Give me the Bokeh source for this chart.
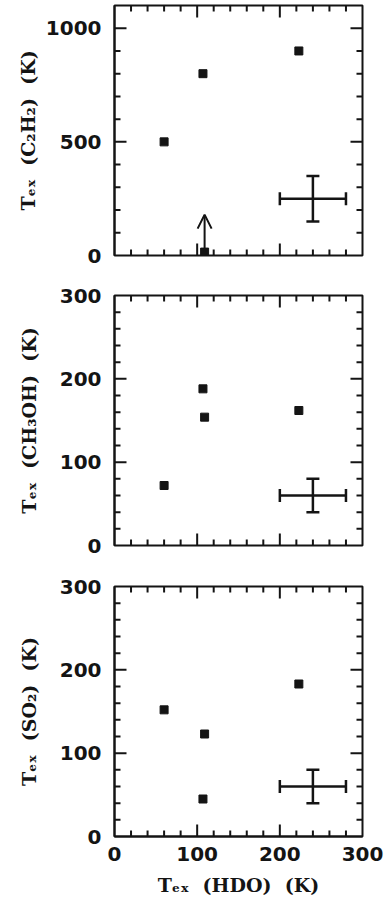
import math
from bokeh.plotting import figure
from bokeh.layouts import column
from bokeh.models import (ColumnDataSource, Range1d, SingleIntervalTicker,
                          Whisker, TeeHead, Arrow, OpenHead)
from bokeh.embed import file_html
from bokeh.resources import INLINE

# ---------------- data ----------------
hdo_c2h2 = [60, 107, 223]
t_c2h2 = [500, 800, 900]
hdo_c2h2_lim = [109]
t_c2h2_lim_low = [15]
t_c2h2_lim_arrow = [180]

hdo_ch3oh = [60, 107, 109, 223]
t_ch3oh = [72, 188, 154, 162]

hdo_so2 = [60, 109, 107, 223]
t_so2 = [152, 123, 45, 183]

err_x = [240]
err_dx = [40]
err_c2h2_y = [250]
err_c2h2_dy = [100]
err_ch3oh_y = [60]
err_ch3oh_dy = [20]
err_so2_y = [60]
err_so2_dy = [20]

# tick positions
x_major = [0, 100, 200, 300]
x_minor = [20, 40, 60, 80, 120, 140, 160, 180, 220, 240, 260, 280]
y1_major = [0, 500, 1000]
y1_minor = [100, 200, 300, 400, 600, 700, 800, 900]
y23_major = [0, 100, 200, 300]
y23_minor = [20, 40, 60, 80, 120, 140, 160, 180, 220, 240, 260, 280]

x_range = (0, 300)
SP = "\u00a0\u00a0"
ylabels = ["T\u2091\u2093" + SP + "(C\u2082H\u2082)" + SP + "(K)",
           "T\u2091\u2093" + SP + "(CH\u2083OH)" + SP + "(K)",
           "T\u2091\u2093" + SP + "(SO\u2082)" + SP + "(K)"]
xlabel = "T\u2091\u2093" + SP + "(HDO)" + SP + "(K)"

TICK_FONT = "DejaVu Sans"
LABEL_FONT = "DejaVu Serif"
INK = "#141414"


def add_ticks(p, xr, yr, xmaj, xmin, ymaj, ymin):
    # inward tick marks: dash markers whose centres sit half a tick length inside the frame
    sx = (p.width - p.min_border_left - p.min_border_right) / (xr[1] - xr[0])
    sy = (p.height - p.min_border_top - p.min_border_bottom) / (yr[1] - yr[0])
    cx, cy, ang, size = [], [], [], []
    for vals, L in ((xmaj, 12), (xmin, 6)):
        for v in vals:
            if v in (xr[0], xr[1]):
                continue
            cx += [v, v]
            cy += [yr[0] + 0.5 * L / sy, yr[1] - 0.5 * L / sy]
            ang += [math.pi / 2, math.pi / 2]
            size += [L, L]
    for vals, L in ((ymaj, 12), (ymin, 6)):
        for v in vals:
            if v in (yr[0], yr[1]):
                continue
            cy += [v, v]
            cx += [xr[0] + 0.5 * L / sx, xr[1] - 0.5 * L / sx]
            ang += [0.0, 0.0]
            size += [L, L]
    tsrc = ColumnDataSource(dict(x=cx, y=cy, angle=ang, size=size))
    p.scatter("x", "y", source=tsrc, marker="dash", angle="angle", size="size",
              line_width=2, line_color=INK, fill_color=None)


def make_panel(xs, ys, yr, yint, ymaj, ymin, ylabel, lab_standoff,
               ex, edx, ey, edy, height, btop, bbot, show_x):
    p = figure(width=388, height=height, output_backend="svg", toolbar_location=None,
               x_range=Range1d(*x_range), y_range=Range1d(*yr),
               min_border_left=114, min_border_right=26,
               min_border_top=btop, min_border_bottom=bbot)
    p.grid.visible = False
    p.outline_line_color = INK
    p.outline_line_width = 2
    p.background_fill_color = "white"
    p.border_fill_color = "white"

    for ax, interval in ((p.yaxis[0], yint), (p.xaxis[0], 100)):
        ax.ticker = SingleIntervalTicker(interval=interval, num_minor_ticks=0)
        ax.axis_line_width = 2
        ax.axis_line_color = INK
        ax.major_tick_in = 0
        ax.major_tick_out = 0
        ax.minor_tick_in = 0
        ax.minor_tick_out = 0
        ax.major_label_text_font = TICK_FONT
        ax.major_label_text_font_style = "bold"
        ax.major_label_text_font_size = "20px"
        ax.major_label_text_color = INK
        ax.major_label_standoff = 13
        ax.axis_label_text_font = LABEL_FONT
        ax.axis_label_text_font_style = "bold"
        ax.axis_label_text_font_size = "19px"
        ax.axis_label_text_color = INK

    p.yaxis[0].axis_label = ylabel
    p.yaxis[0].axis_label_standoff = lab_standoff
    if show_x:
        p.xaxis[0].axis_label = xlabel
        p.xaxis[0].axis_label_standoff = 10
        p.xaxis[0].major_label_standoff = 10
    else:
        p.xaxis[0].visible = False

    add_ticks(p, x_range, yr, x_major, x_minor, ymaj, ymin)

    src = ColumnDataSource(dict(x=xs, y=ys))
    p.scatter("x", "y", source=src, marker="square", size=8, color=INK)

    esrc = ColumnDataSource(dict(
        x=ex, y=ey,
        xl=[a - b for a, b in zip(ex, edx)], xu=[a + b for a, b in zip(ex, edx)],
        yl=[a - b for a, b in zip(ey, edy)], yu=[a + b for a, b in zip(ey, edy)]))
    for base, lo, up, dim in (("y", "xl", "xu", "width"), ("x", "yl", "yu", "height")):
        p.add_layout(Whisker(source=esrc, base=base, lower=lo, upper=up, dimension=dim,
                             line_width=2.5, line_color=INK,
                             lower_head=TeeHead(size=13, line_width=2.5, line_color=INK),
                             upper_head=TeeHead(size=13, line_width=2.5, line_color=INK)))
    return p


p1 = make_panel(hdo_c2h2, t_c2h2, (0, 1100), 500, y1_major, y1_minor, ylabels[0], 4,
                err_x, err_dx, err_c2h2_y, err_c2h2_dy, 275, 5, 20, False)
lim_src = ColumnDataSource(dict(x=hdo_c2h2_lim, y0=t_c2h2_lim_low, y1=t_c2h2_lim_arrow))
p1.scatter("x", "y0", source=lim_src, marker="square", size=8, color=INK)
p1.add_layout(Arrow(source=lim_src, x_start="x", y_start="y0", x_end="x", y_end="y1",
                    line_width=2, line_color=INK,
                    end=OpenHead(size=14, line_width=2, line_color=INK)))

p2 = make_panel(hdo_ch3oh, t_ch3oh, (0, 300), 100, y23_major, y23_minor, ylabels[1], 17,
                err_x, err_dx, err_ch3oh_y, err_ch3oh_dy, 290, 20, 20, False)
p3 = make_panel(hdo_so2, t_so2, (0, 300), 100, y23_major, y23_minor, ylabels[2], 17,
                err_x, err_dx, err_so2_y, err_so2_dy, 348, 21, 77, True)

layout = column(p1, p2, p3, spacing=0)
open("out.html", "w").write(file_html(layout, INLINE))
